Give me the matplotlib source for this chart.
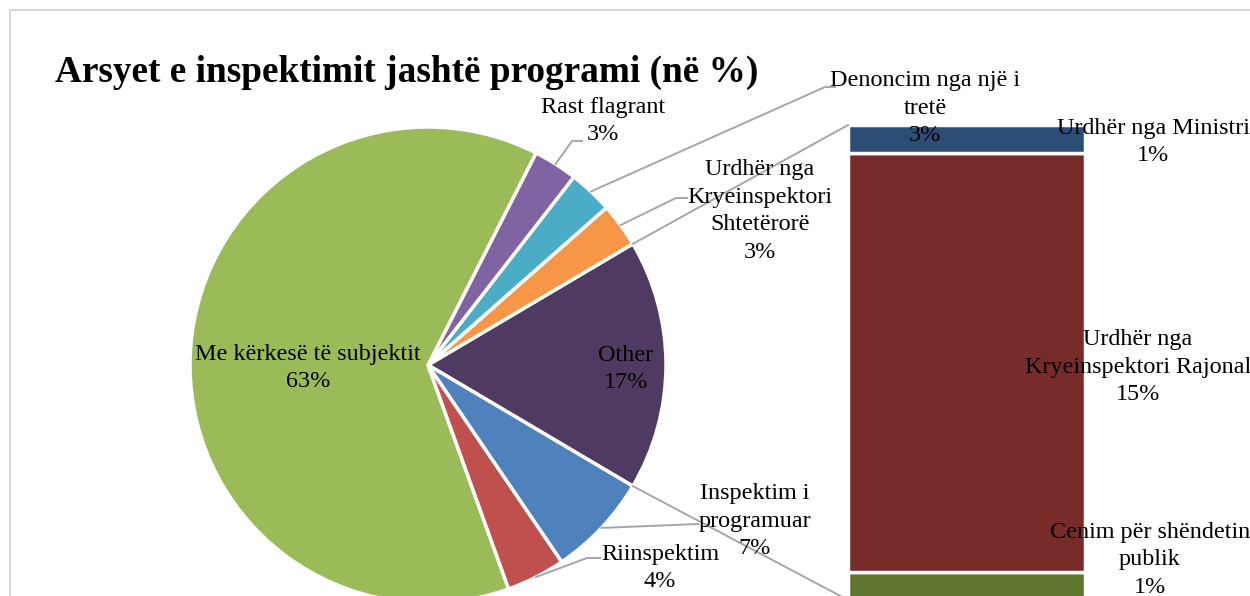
import numpy as np
import matplotlib.pyplot as plt
from matplotlib.patches import Rectangle

plt.rcParams['font.family'] = ['Liberation Serif', 'DejaVu Serif']

W, H = 1250, 596

# pjesa kryesore (pie), renditur kundër orës duke filluar nga "Other"
pie_labels = ['Other', 'Urdhër nga\nKryeinspektori\nShtetërorë', 'Denoncim nga një i\ntretë',
              'Rast flagrant', 'Me kërkesë të subjektit', 'Riinspektim', 'Inspektim i\nprogramuar']
pie_values = [17, 3, 3, 3, 63, 4, 7]
pie_colors = ['#4F3B62', '#F79646', '#4BACC6', '#8064A2', '#9BBB59', '#C0504D', '#4F81BD']

# "Other" i ndarë në shtyllë (nga poshtë lart)
bar_labels = ['Cenim për shëndetin\npublik', 'Urdhër nga\nKryeinspektori Rajonal', 'Urdhër nga Ministri']
bar_values = [1, 15, 1]
bar_colors = ['#5F7530', '#772C2A', '#2C4D75']

title = 'Arsyet e inspektimit jashtë programi (në %)'

fs = 17.4
ls = 1.42
gray = '#A6A6A6'

fig = plt.figure(figsize=(W / 100, H / 100), dpi=100)
ax = fig.add_axes([0, 0, 1, 1])
ax2 = fig.add_axes([848 / W, (H - 600) / H, (1085 - 848) / W, 475 / H])
ax.set_zorder(2)
ax.patch.set_visible(False)

# pie
cx, cy, r = 428, H - 365, 238
start = -180 * pie_values[0] / 100
wedges, _ = ax.pie(pie_values, colors=pie_colors, startangle=start, counterclock=True,
                   center=(cx, cy), radius=r,
                   wedgeprops=dict(edgecolor='white', linewidth=2.5))
ax.set_xlim(0, W)
ax.set_ylim(0, H)
ax.set_aspect('auto')
ax.axis('off')

# shtylla
bottoms = np.concatenate([[0], np.cumsum(bar_values)[:-1]])
ax2.bar(0, bar_values, bottom=bottoms, width=1, color=bar_colors,
        edgecolor='white', linewidth=2.5)
ax2.set_xlim(-0.5, 0.5)
ax2.set_ylim(0, sum(bar_values))
ax2.axis('off')

# vijat lidhëse nga "Other" te shtylla
w0 = wedges[0]
p = ax2.get_position()
bx = p.x0 * W
for ang, by in [(w0.theta2, p.y1 * H), (w0.theta1, p.y0 * H)]:
    a = np.deg2rad(ang)
    ax.plot([cx + r * np.cos(a), bx], [cy + r * np.sin(a), by], color=gray, lw=1.4)

def pct(v):
    return '%d%%' % v

# etiketat e pie (pozicioni në piksel, y poshtë)
lab_pos = [(626, 369), (760, 211), (925, 108), (603, 121), (308, 368), (660, 568), (755, 521)]
# thyerjet e vijave udhëzuese (None = pa vijë)
elbows = [None, [(687, 198), (676, 198)], [(835, 87), (825, 87)], [(582, 141), (572, 141)],
          None, [(600, 558), (587, 558)], [(698, 524)]]

for i, (lab, v) in enumerate(zip(pie_labels, pie_values)):
    x, y = lab_pos[i]
    ax.text(x, H - y, lab + '\n' + pct(v), ha='center', va='center', fontsize=fs,
            linespacing=ls, color='black')
    if elbows[i] is not None:
        w = wedges[i]
        a = np.deg2rad((w.theta1 + w.theta2) / 2)
        xs = [e[0] for e in elbows[i]] + [cx + r * np.cos(a)]
        ys = [H - e[1] for e in elbows[i]] + [cy + r * np.sin(a)]
        ax.plot(xs, ys, color=gray, lw=1.4)

bar_pos = [(1150, 560), (1138, 367), (1153, 142)]
for (x, y), lab, v in zip(bar_pos, bar_labels, bar_values):
    ax.text(x, H - y, lab + '\n' + pct(v), ha='center', va='center', fontsize=fs,
            linespacing=ls, color='black')

ax.text(55, H - 72, title, ha='left', va='center', fontsize=26.8, fontweight='bold')

# korniza e grafikut
ax.add_patch(Rectangle((10, -20), W + 20, H - 10 + 20, fill=False, edgecolor='#D9D9D9',
                       lw=1.5, clip_on=False))

fig.savefig('out.png', dpi=100)
